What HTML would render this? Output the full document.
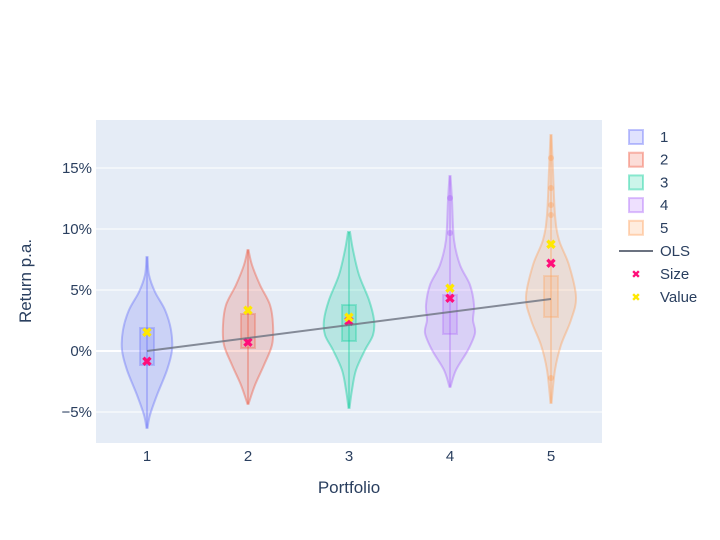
<!DOCTYPE html><html><head><meta charset="utf-8"><style>body{margin:0;background:#fff}svg{display:block;font-family:"Liberation Sans",sans-serif}</style></head><body>
<svg id="s" width="720" height="540" xmlns="http://www.w3.org/2000/svg">
<rect x="96" y="120" width="506" height="323" fill="#e5ecf6"/>
<g stroke="#fff" stroke-width="1"><line x1="96" x2="602" y1="168" y2="168"/><line x1="96" x2="602" y1="229" y2="229"/><line x1="96" x2="602" y1="290" y2="290"/><line x1="96" x2="602" y1="412" y2="412"/></g>
<line x1="96" x2="602" y1="351" y2="351" stroke="#fff" stroke-width="2"/>
<g id="v"></g>
<line x1="147" y1="351" x2="551" y2="299" stroke="#6b7280" stroke-opacity="0.8" stroke-width="2"/>
<g font-size="15" fill="#2a3f5f" text-anchor="end">
<text x="92" y="173">15%</text><text x="92" y="234">10%</text><text x="92" y="295">5%</text><text x="92" y="356">0%</text><text x="92" y="417">−5%</text></g>
<g font-size="15" fill="#2a3f5f" text-anchor="middle">
<text x="147" y="461">1</text><text x="248" y="461">2</text><text x="349" y="461">3</text><text x="450" y="461">4</text><text x="551" y="461">5</text>
<text x="349" y="493" font-size="17">Portfolio</text>
<text transform="translate(31,281) rotate(-90)" font-size="17">Return p.a.</text></g>
<g id="lg" font-size="15" fill="#2a3f5f"></g>
</svg>
<script>
const C=['#636efa','#EF553B','#00cc96','#ab63fa','#FFA15A'];
const V=[
{x:147,p:[[257,0.5],[275,2],[292,8],[310,18],[330,24],[350,25],[370,20],[395,10],[415,3],[428,0.5]],b:[328,365],o:[],s:361,val:332},
{x:248,p:[[250,0.5],[265,4],[285,12],[305,22],[325,25],[345,24],[365,16],[385,7],[404,0.5]],b:[314,348],o:[],s:342,val:310},
{x:349,p:[[232,1],[250,4],[275,10],[300,20],[320,25],[335,24],[350,16],[370,7],[390,3],[408,0.5]],b:[305,341],o:[],s:321,val:317},
{x:450,p:[[176,0.5],[200,2],[240,4],[265,10],[285,20],[305,24],[320,23],[333,25],[350,18],[370,6],[387,0.5]],b:[295,334],o:[198,233],s:298,val:288},
{x:551,p:[[135,0.5],[170,2],[215,4],[240,8],[265,18],[297,25],[320,20],[345,10],[370,4],[403,0.5]],b:[276,317],o:[158,188,205,215,378],s:263,val:244}];
function cr(pts){let d='M'+pts[0][0]+','+pts[0][1];for(let i=0;i<pts.length-1;i++){const p0=pts[Math.max(0,i-1)],p1=pts[i],p2=pts[i+1],p3=pts[Math.min(pts.length-1,i+2)];
const c1=[p1[0]+(p2[0]-p0[0])/6,p1[1]+(p2[1]-p0[1])/6],c2=[p2[0]-(p3[0]-p1[0])/6,p2[1]-(p3[1]-p1[1])/6];d+=` C${c1} ${c2} ${p2}`;}return d;}
let h='';
V.forEach((v,i)=>{const c=C[i];const p=v.p;
const L=p.map(a=>[v.x-a[1],a[0]]);const R=p.slice().reverse().map(a=>[v.x+a[1],a[0]]);
const d=cr(L)+' L'+R[0]+cr(R).replace(/^M[^C]*/,' ');
h+=`<path d="${d}Z" fill="${c}" fill-opacity="0.2" stroke="${c}" stroke-opacity="0.4" stroke-width="2"/>`;
h+=`<line x1="${v.x}" x2="${v.x}" y1="${p[0][0]}" y2="${p[p.length-1][0]}" stroke="${c}" stroke-opacity="0.35" stroke-width="2"/>`;
h+=`<rect x="${v.x-7}" y="${v.b[0]}" width="14" height="${v.b[1]-v.b[0]}" fill="${c}" fill-opacity="0.2" stroke="${c}" stroke-opacity="0.3" stroke-width="2"/>`;
v.o.forEach(y=>h+=`<circle cx="${v.x}" cy="${y}" r="3" fill="${c}" fill-opacity="0.4"/>`);
h+=`<text x="${v.x}" y="${v.s+5}" font-size="13" font-weight="bold" fill="#ff0e7a" text-anchor="middle">✖</text>`;
h+=`<text x="${v.x}" y="${v.val+5}" font-size="13" font-weight="bold" fill="#ffe800" text-anchor="middle">✖</text>`;
});
document.getElementById('v').innerHTML=h;
let g='';
[1,2,3,4,5].forEach((n,i)=>{const y=137+i*22.7;g+=`<rect x="629" y="${y-7}" width="14" height="14" fill="${C[i]}" fill-opacity="0.2" stroke="${C[i]}" stroke-opacity="0.4" stroke-width="2"/><text x="660" y="${y+5}">${n}</text>`;});
g+=`<line x1="619" x2="653" y1="251" y2="251" stroke="#6b7280" stroke-width="2"/><text x="660" y="256">OLS</text>`;
g+=`<text x="636" y="278" font-size="11" fill="#ff0e7a" text-anchor="middle">✖</text><text x="660" y="279">Size</text>`;
g+=`<text x="636" y="301" font-size="11" fill="#ffe800" text-anchor="middle">✖</text><text x="660" y="302">Value</text>`;
document.getElementById('lg').innerHTML=g;
</script></body></html>
